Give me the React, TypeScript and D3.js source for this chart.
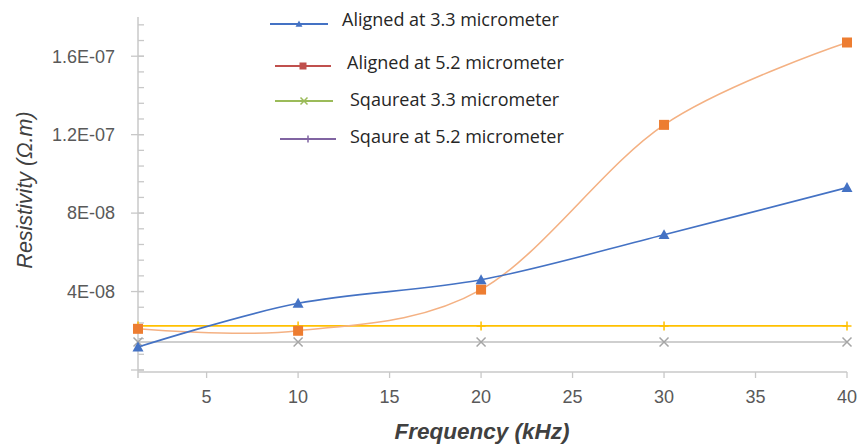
import React from "react";
import * as d3 from "d3";

// Frequency (kHz) of each measurement
const freq = [1.25, 10, 20, 30, 40];

// Resistivity values (Ω.m) per sample series
const aligned33 = [1.17e-8, 3.4e-8, 4.6e-8, 6.9e-8, 9.3e-8];
const aligned52 = [2.1e-8, 2.0e-8, 4.1e-8, 12.5e-8, 16.7e-8];
const square33 = [1.43e-8, 1.43e-8, 1.43e-8, 1.43e-8, 1.43e-8];
const square52 = [2.25e-8, 2.25e-8, 2.25e-8, 2.25e-8, 2.25e-8];

const xTickValues = [5, 10, 15, 20, 25, 30, 35, 40];
const yMajorValues = [0, 4e-8, 8e-8, 1.2e-7, 1.6e-7];
const yMajorLabels = ["", "4E-08", "8E-08", "1.2E-07", "1.6E-07"];

const legendLabels = [
  "Aligned at 3.3 micrometer",
  "Aligned at 5.2 micrometer",
  "Sqaureat 3.3 micrometer",
  "Sqaure at 5.2 micrometer",
];

const W = 860;
const H = 446;

type Marker = "triangle" | "square" | "x" | "plus";

function MarkerShape({ kind, cx, cy, size, color }: { kind: Marker; cx: number; cy: number; size: number; color: string }) {
  const s = size / 2;
  if (kind === "triangle") {
    return <path d={`M${cx},${cy - s}L${cx + s},${cy + s * 0.8}L${cx - s},${cy + s * 0.8}Z`} fill={color} />;
  }
  if (kind === "square") {
    return <rect x={cx - s} y={cy - s} width={size} height={size} fill={color} />;
  }
  if (kind === "x") {
    return (
      <path
        d={`M${cx - s},${cy - s}L${cx + s},${cy + s}M${cx - s},${cy + s}L${cx + s},${cy - s}`}
        stroke={color}
        strokeWidth={1.5}
        fill="none"
      />
    );
  }
  return (
    <path
      d={`M${cx - s},${cy}L${cx + s},${cy}M${cx},${cy - s}L${cx},${cy + s}`}
      stroke={color}
      strokeWidth={1.5}
      fill="none"
    />
  );
}

export default function App() {
  const x = d3.scaleLinear().domain([1.25, 40]).range([138, 847]);
  const y = d3.scaleLinear().domain([0, 1.8e-7]).range([370, 17]);

  const smooth = d3
    .line<number>()
    .x((_, i) => x(freq[i]))
    .y((v) => y(v))
    .curve(d3.curveCardinal.tension(0));

  const straight = d3
    .line<number>()
    .x((_, i) => x(freq[i]))
    .y((v) => y(v));

  const series = [
    { values: square33, line: "#BFBFBF", marker: "#A5A5A5", kind: "x" as Marker, size: 9, path: straight },
    { values: square52, line: "#FFC000", marker: "#FFC000", kind: "plus" as Marker, size: 9, path: straight },
    { values: aligned52, line: "#F4B183", marker: "#ED7D31", kind: "square" as Marker, size: 10, path: smooth },
    { values: aligned33, line: "#4472C4", marker: "#4472C4", kind: "triangle" as Marker, size: 11, path: smooth },
  ];

  const legend = [
    { color: "#4472C4", kind: "triangle" as Marker, x1: 270, x2: 328, y: 24, tx: 342, ty: 20 },
    { color: "#C0504D", kind: "square" as Marker, x1: 275, x2: 331, y: 66, tx: 347, ty: 63 },
    { color: "#9BBB59", kind: "x" as Marker, x1: 275, x2: 333, y: 101, tx: 350, ty: 100 },
    { color: "#8064A2", kind: "plus" as Marker, x1: 280, x2: 336, y: 139, tx: 350, ty: 137 },
  ];

  const minorTicks = d3.range(0, 1.77e-7, 8e-9);
  const axisColor = "#C8C8C8";
  const x0 = x.range()[0];
  const yBase = 372;

  return (
    <svg width={W} height={H} style={{ position: "absolute", left: 0, top: 0, background: "#fff" }}>
      <rect width={W} height={H} fill="#fff" />

      {/* y axis */}
      <line x1={x0} x2={x0} y1={17} y2={378} stroke={axisColor} strokeWidth={1.5} />
      {minorTicks.map((v, i) => (
        <line key={"mn" + i} x1={x0} x2={x0 + 6} y1={y(v)} y2={y(v)} stroke={axisColor} strokeWidth={1.3} />
      ))}
      {yMajorValues.map((v, i) => (
        <g key={"mj" + i}>
          <line x1={x0 - 7} x2={x0 + 6} y1={y(v)} y2={y(v)} stroke={axisColor} strokeWidth={1.3} />
          <text
            x={115}
            y={y(v)}
            dy="0.35em"
            textAnchor="end"
            fontFamily="Liberation Sans, Arial, sans-serif"
            fontSize={18}
            fill="#595959"
          >
            {yMajorLabels[i]}
          </text>
        </g>
      ))}

      {/* x axis */}
      <line x1={x0} x2={x(40)} y1={yBase} y2={yBase} stroke={axisColor} strokeWidth={1.5} />
      {xTickValues.map((v) => (
        <g key={"xt" + v}>
          <line x1={x(v)} x2={x(v)} y1={yBase} y2={yBase + 6} stroke={axisColor} strokeWidth={1.3} />
          <text
            x={x(v)}
            y={397}
            dy="0.35em"
            textAnchor="middle"
            fontFamily="Liberation Sans, Arial, sans-serif"
            fontSize={18}
            fill="#595959"
          >
            {v}
          </text>
        </g>
      ))}

      {/* axis titles */}
      <text
        x={482}
        y={431}
        dy="0.35em"
        textAnchor="middle"
        fontFamily="Liberation Sans, Arial, sans-serif"
        fontSize={22.5}
        fontWeight="bold"
        fontStyle="italic"
        fill="#404040"
      >
        Frequency (kHz)
      </text>
      <text
        transform={`translate(24,190) rotate(-90)`}
        dy="0.35em"
        textAnchor="middle"
        fontFamily="Liberation Sans, Arial, sans-serif"
        fontSize={21.5}
        fontStyle="italic"
        fill="#404040"
      >
        Resistivity (Ω.m)
      </text>

      {/* series */}
      {series.map((s, si) => (
        <g key={"s" + si}>
          <path d={s.path(s.values) || ""} fill="none" stroke={s.line} strokeWidth={1.6} />
          {s.values.map((v, i) => (
            <MarkerShape key={i} kind={s.kind} cx={x(freq[i])} cy={y(v)} size={s.size} color={s.marker} />
          ))}
        </g>
      ))}

      {/* legend */}
      {legend.map((l, i) => (
        <g key={"lg" + i}>
          <line x1={l.x1} x2={l.x2} y1={l.y} y2={l.y} stroke={l.color} strokeWidth={2} />
          <MarkerShape kind={l.kind} cx={(l.x1 + l.x2) / 2} cy={l.y} size={7} color={l.color} />
          <text
            x={l.tx}
            y={l.ty}
            dy="0.35em"
            fontFamily="Open Sans, sans-serif"
            fontSize={18}
            fill="#262626"
          >
            {legendLabels[i]}
          </text>
        </g>
      ))}
    </svg>
  );
}
